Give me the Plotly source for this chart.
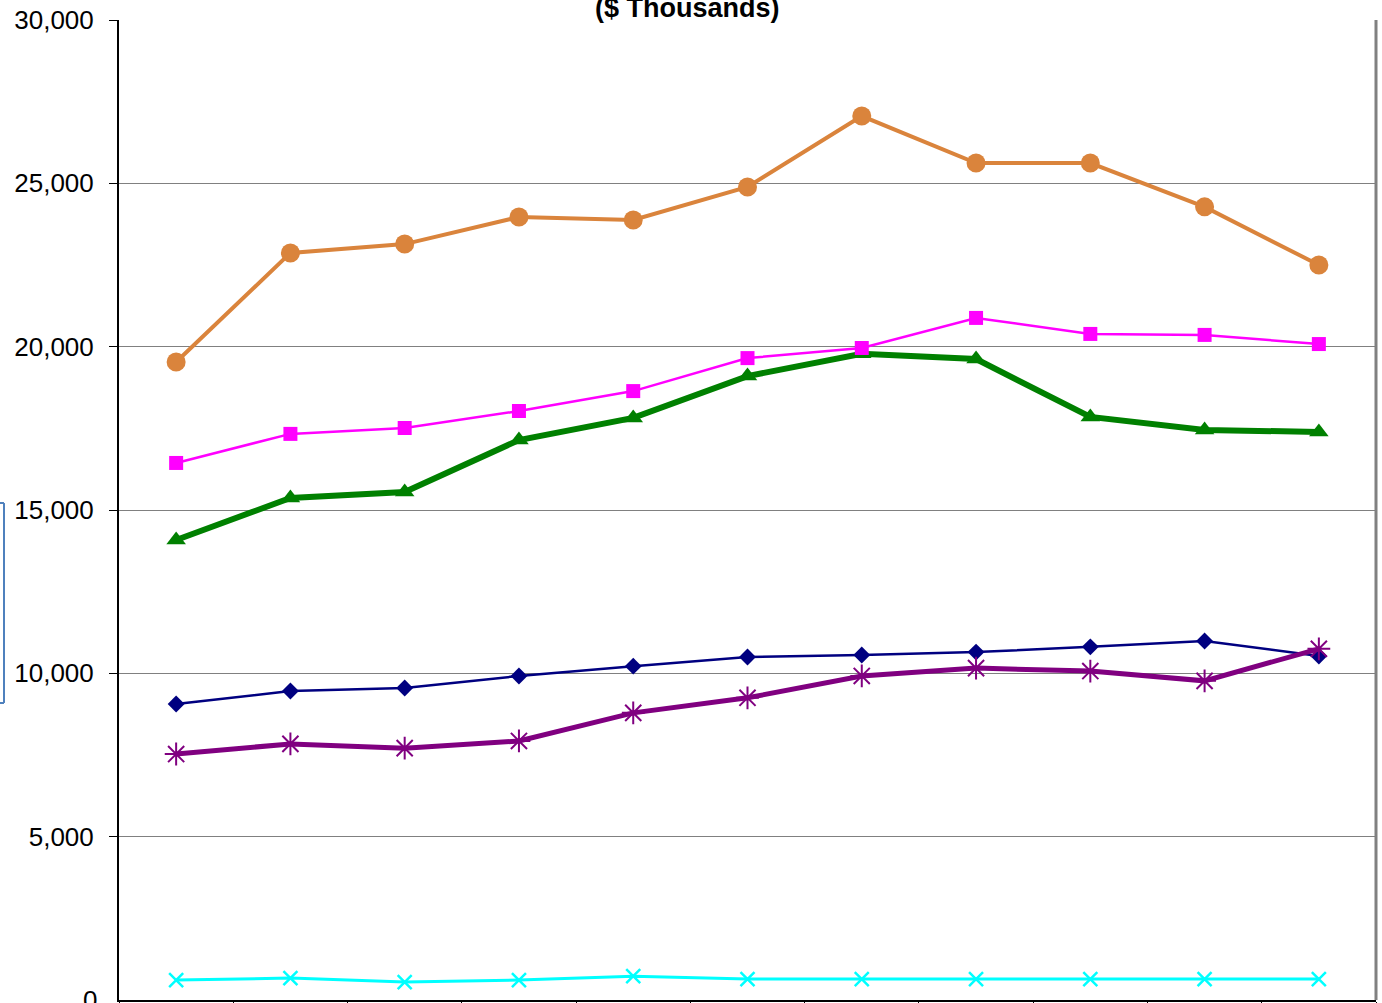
import plotly.graph_objects as go

categories = ["P1", "P2", "P3", "P4", "P5", "P6", "P7", "P8", "P9", "P10", "P11"]

orange_vals = [19530, 22870, 23140, 23970, 23880, 24890, 27060, 25620, 25620, 24280, 22500]
magenta_vals = [16440, 17330, 17510, 18030, 18640, 19650, 19960, 20880, 20390, 20360, 20080]
green_vals = [14080, 15370, 15550, 17140, 17820, 19100, 19780, 19620, 17850, 17450, 17390]
navy_vals = [9060, 9460, 9550, 9920, 10220, 10500, 10560, 10650, 10810, 10990, 10530]
purple_vals = [7530, 7840, 7710, 7930, 8790, 9250, 9920, 10160, 10070, 9770, 10750]
cyan_vals = [610, 670, 550, 610, 730, 640, 640, 640, 640, 640, 640]

y_ticks = [5000, 10000, 15000, 20000, 25000, 30000]
y_tick_text = ["5,000", "10,000", "15,000", "20,000", "25,000", "30,000"]
y_zero_label = "0"

fig = go.Figure()

fig.add_trace(go.Scatter(x=categories, y=cyan_vals, mode="lines+markers", name="Series 6",
                         line=dict(color="#00FFFF", width=3),
                         marker=dict(symbol="x-thin-open", size=14, color="#00FFFF",
                                     line=dict(color="#00FFFF", width=2.5))))
fig.add_trace(go.Scatter(x=categories, y=green_vals, mode="lines+markers", name="Series 3",
                         line=dict(color="#008000", width=6),
                         marker=dict(symbol="triangle-up", size=17, color="#008000")))
fig.add_trace(go.Scatter(x=categories, y=magenta_vals, mode="lines+markers", name="Series 2",
                         line=dict(color="#FF00FF", width=2.5),
                         marker=dict(symbol="square", size=14, color="#FF00FF")))
fig.add_trace(go.Scatter(x=categories, y=orange_vals, mode="lines+markers", name="Series 1",
                         line=dict(color="#DA843C", width=4),
                         marker=dict(symbol="circle", size=19, color="#DA843C")))
fig.add_trace(go.Scatter(x=categories, y=navy_vals, mode="lines+markers", name="Series 4",
                         line=dict(color="#000080", width=2.5),
                         marker=dict(symbol="diamond", size=13, color="#000080")))
fig.add_trace(go.Scatter(x=categories, y=purple_vals, mode="lines+markers", name="Series 5",
                         line=dict(color="#800080", width=5),
                         marker=dict(symbol="asterisk-open", size=19,
                                     line=dict(color="#800080", width=2))))

fig.update_layout(
    width=1382, height=1011,
    margin=dict(l=119, r=6, t=20, b=3),
    paper_bgcolor="white", plot_bgcolor="white",
    showlegend=False,
    font=dict(family="Liberation Sans, Arial, sans-serif", color="black"),
    xaxis=dict(type="category", showgrid=False, zeroline=False,
               showline=True, linecolor="black", linewidth=2,
               ticks="outside", tickson="boundaries", ticklen=8, tickcolor="black",
               showticklabels=False, range=[-0.5, 10.5]),
    yaxis=dict(range=[0, 30000], tickvals=y_ticks, ticktext=y_tick_text,
               showgrid=True, gridcolor="#808080", gridwidth=1, zeroline=False,
               showline=True, linecolor="black", linewidth=2,
               ticks="outside", ticklen=8, tickcolor="black",
               tickfont=dict(size=26, color="black"), ticklabelstandoff=10),
    shapes=[
        dict(type="line", xref="paper", yref="paper", x0=1, x1=1, y0=0, y1=1,
             line=dict(color="#808080", width=3)),
        dict(type="line", xref="paper", yref="y", x0=-0.1, x1=-0.118, y0=0, y1=0,
             line=dict(color="black", width=2)),
        dict(type="line", xref="paper", yref="paper", x0=-0.12, x1=-0.0915, y0=0.5071, y1=0.5071,
             line=dict(color="#4F81BD", width=2)),
        dict(type="line", xref="paper", yref="paper", x0=-0.0915, x1=-0.0915, y0=0.5071, y1=0.3031,
             line=dict(color="#4F81BD", width=2)),
        dict(type="line", xref="paper", yref="paper", x0=-0.12, x1=-0.0915, y0=0.3031, y1=0.3031,
             line=dict(color="#4F81BD", width=2)),
    ],
    annotations=[
        dict(text="<b>($ Thousands)</b>", xref="paper", yref="paper", x=0.4523, y=1,
             xanchor="center", yanchor="bottom", yshift=-5, showarrow=False,
             font=dict(size=27, color="black", family="Liberation Sans, Arial, sans-serif")),
        dict(text=y_zero_label, xref="paper", yref="y", x=0, y=0,
             xanchor="right", yanchor="middle", xshift=-20, showarrow=False,
             font=dict(size=26, color="black", family="Liberation Sans, Arial, sans-serif")),
    ],
)

post_js = (
    "document.body.style.margin='0';"
    "document.body.style.overflow='hidden';"
    "var gd=document.querySelector('.plotly-graph-div');"
    "gd.style.position='fixed';gd.style.top='0px';gd.style.left='0px';"
)

fig.write_html("out.html", config={"displayModeBar": False}, post_script=post_js)
